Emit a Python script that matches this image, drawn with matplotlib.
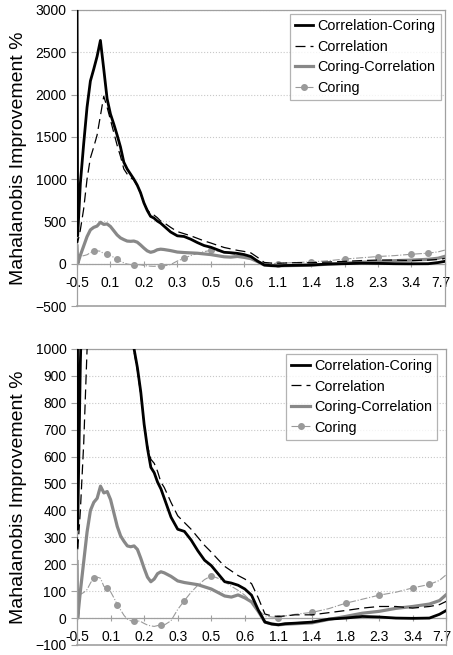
import matplotlib
matplotlib.use("Agg")
import matplotlib.pyplot as plt
from matplotlib.transforms import ScaledTranslation

plt.rcParams['font.family'] = ['Liberation Sans', 'DejaVu Sans']

# position along the category axis, in label-step units (0 = "-0.5", 11 = "7.7")
pos = [0, 0.02, 0.1, 0.2, 0.3, 0.4, 0.5, 0.6, 0.7, 0.8, 0.9, 1.0, 1.1, 1.2, 1.3, 1.4,
       1.5, 1.6, 1.7, 1.8, 1.9, 2.0, 2.1, 2.2, 2.3, 2.4, 2.5, 2.6, 2.8, 3.0, 3.2, 3.4,
       3.6, 3.8, 4.0, 4.2, 4.4, 4.6, 4.8, 5.0, 5.2, 5.4, 5.6, 5.8, 6.0, 6.2, 6.5, 7.0,
       7.5, 8.0, 8.5, 9.0, 9.5, 10.0, 10.5, 10.8, 11.0]

corr_coring = [3300, 330, 950, 1420, 1850, 2160, 2300, 2450, 2640, 2300, 1950, 1770, 1650,
               1520, 1380, 1200, 1120, 1060, 1000, 930, 840, 720, 630, 560, 540, 505, 480,
               445, 375, 330, 322, 290, 250, 215, 195, 165, 135, 130, 122, 108, 85, 30,
               -15, -22, -25, -21, -19, -15, -4, 0, 6, 4, 0, -1, 0, 14, 28]
corr = [300, 250, 400, 650, 1000, 1250, 1380, 1520, 1750, 1980, 1850, 1700, 1550, 1400,
        1270, 1120, 1060, 1020, 990, 920, 830, 720, 640, 590, 575, 545, 505, 485, 430,
        380, 355, 330, 300, 270, 245, 218, 192, 175, 158, 145, 128, 75, 15, 8, 6, 8, 12,
        12, 20, 28, 37, 43, 43, 37, 43, 50, 62]
coring_corr = [210, 0, 100, 210, 320, 400, 430, 445, 490, 465, 470, 440, 390, 340, 305,
               285, 268, 265, 268, 255, 222, 185, 152, 135, 145, 165, 172, 168, 155, 138,
               132, 128, 124, 116, 108, 95, 82, 78, 86, 75, 60, 25, -15, -22, -25, -23,
               -21, -18, -5, 6, 18, 25, 36, 43, 52, 65, 87]
coring = [0, 80, 88, 95, 106, 130, 150, 152, 148, 118, 110, 98, 75, 50, 30, 10, -4, -10,
          -12, -10, -13, -20, -26, -29, -31, -28, -25, -26, -10, 32, 65, 96, 122, 143, 157,
          148, 135, 118, 103, 85, 60, 30, 8, 4, 2, 8, 14, 21, 35, 55, 70, 85, 96, 112,
          125, 140, 161]
coring_marks = [0.5, 0.9, 1.2, 1.7, 2.5, 3.2, 4.0, 6.0, 7.0, 8.0, 9.0, 10.0, 10.5]

xlabels = ['-0.5', '0.1', '0.2', '0.3', '0.5', '0.6', '1.1', '1.4', '1.8', '2.3', '3.4', '7.7']

frame_col = '#a0a0a0'
mark_idx = [pos.index(p) for p in coring_marks]

fig = plt.figure(figsize=(4.53, 6.55), dpi=100)
ax_top = fig.add_axes([0.170, 0.5328, 0.812, 0.452])
ax_bot = fig.add_axes([0.170, 0.0153, 0.815, 0.452])

panels = [
    (ax_top, (-500, 3000), range(-500, 3001, 500), (0.989, 0.986)),
    (ax_bot, (-100, 1000), range(-100, 1001, 100), (0.976, 0.983)),
]

for ax, ylim, yticks, leg_anchor in panels:
    ax.plot(pos, corr_coring, color='black', lw=2.0, label='Correlation-Coring', zorder=4)
    ax.plot(pos, corr, color='black', lw=0.9, ls=(0, (8, 4)), label='Correlation', zorder=3)
    ax.plot(pos, coring_corr, color='#888888', lw=2.3, label='Coring-Correlation', zorder=2)
    ax.plot(pos, coring, color='#9a9a9a', lw=0.8, ls='-.', marker='o', ms=4,
            markevery=mark_idx, label='Coring', zorder=1)

    ax.set_xlim(0, 11)
    ax.set_ylim(*ylim)
    ax.set_yticks(list(yticks))
    ax.set_xticks(range(len(xlabels)))
    ax.set_xticklabels(xlabels)

    # category axis crosses at zero, plot-area border kept in gray
    for side in ['left', 'right', 'top', 'bottom']:
        ax.spines[side].set_color(frame_col)
        ax.spines[side].set_linewidth(0.9)
    ax.spines['bottom'].set_position(('data', 0))
    ax.axhline(ylim[0], color=frame_col, lw=1.2, clip_on=False, zorder=0)

    ax.tick_params(axis='x', direction='inout', length=5, color=frame_col,
                   labelsize=10, pad=6)
    ax.tick_params(axis='y', direction='out', length=4, color=frame_col, labelsize=10)
    ax.yaxis.grid(True, ls=':', color='#c8c8c8', lw=0.8)
    ax.set_axisbelow(True)

    # pull the last category label in so it stays on the page
    last = ax.get_xticklabels()[-1]
    last.set_transform(last.get_transform() + ScaledTranslation(-4 / 100, 0, fig.dpi_scale_trans))

    ax.set_ylabel('Mahalanobis Improvement %', fontsize=14, labelpad=6)

    leg = ax.legend(loc='upper right', bbox_to_anchor=leg_anchor, fontsize=10.4,
                    frameon=True, fancybox=False, edgecolor=frame_col,
                    handlelength=1.3, handletextpad=0.3, labelspacing=0.45,
                    borderpad=0.35, borderaxespad=0)
    leg.get_frame().set_linewidth(0.9)

fig.savefig('out.png', dpi=100)
